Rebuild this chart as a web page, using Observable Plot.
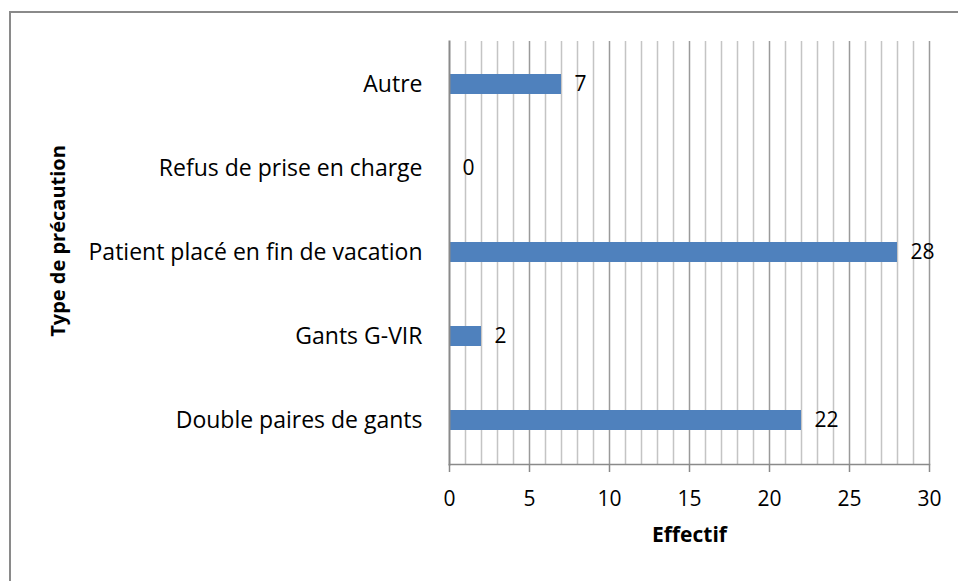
<!DOCTYPE html>
<html>
<head>
<meta charset="utf-8">
<script src="https://cdn.jsdelivr.net/npm/d3@7"></script>
<script src="https://cdn.jsdelivr.net/npm/@observablehq/plot@0.6"></script>
<style>
  html, body { margin: 0; padding: 0; background: #fff; }
  #wrap { position: relative; width: 958px; height: 581px; overflow: hidden; }
  #border { position: absolute; left: 9px; top: 11px; width: 1000px; height: 1000px;
            border-left: 2px solid #8a8a8a; border-top: 2px solid #8a8a8a; box-sizing: border-box; }
  #chart { position: absolute; left: 0; top: 0; }
</style>
</head>
<body>
<div id="wrap"><div id="border"></div><div id="chart"></div></div>
<script>
const categories = ["Double paires de gants", "Gants G-VIR", "Patient placé en fin de vacation", "Refus de prise en charge", "Autre"];
const values = [22, 2, 28, 0, 7];
const xTicks = [0, 5, 10, 15, 20, 25, 30];
const minorTicks = d3.range(0, 31);
const xTitle = "Effectif";
const yTitle = "Type de précaution";

const data = categories.map((c, i) => ({category: c, value: values[i]}));
const yDomain = categories.slice().reverse();
const font = "'Open Sans', 'Liberation Sans', sans-serif";

const chart = Plot.plot({
  width: 958,
  height: 581,
  marginLeft: 449,
  marginRight: 29,
  marginTop: 41,
  marginBottom: 117,
  style: {fontFamily: font, fontSize: "21px", color: "#000", background: "transparent", overflow: "visible"},
  x: {domain: [0, 30]},
  y: {domain: yDomain, paddingInner: 0.76, paddingOuter: 0.38},
  marks: [
    Plot.ruleX(minorTicks.filter(d => d % 5 !== 0), {stroke: "#c4c4c4", strokeWidth: 1.5, strokeOpacity: 1}),
    Plot.ruleX(xTicks.filter(d => d !== 0), {stroke: "#9a9a9a", strokeWidth: 1.5, strokeOpacity: 1}),
    Plot.barX(data, {y: "category", x: "value", fill: "#4f81bd"}),
    Plot.text(data, {y: "category", x: "value", text: d => String(d.value), textAnchor: "start", dx: 13, fontSize: 21, fill: "#000"}),
    Plot.frame({anchor: "bottom", stroke: "#8a8a8a", strokeWidth: 1.5}),
    Plot.frame({anchor: "left", stroke: "#8a8a8a", strokeWidth: 2}),
    Plot.axisX({ticks: xTicks, tickSize: 8, tickPadding: 19, stroke: "#8a8a8a", strokeWidth: 1.5, fontSize: 21, label: null, tickFormat: d => String(d)}),
    Plot.axisY({tickSize: 0, tickPadding: 27, fontSize: 23, label: null}),
    Plot.text([xTitle], {frameAnchor: "bottom", dy: 77, x: 15, text: d => d, fontWeight: "bold", fontSize: 21}),
    Plot.text([yTitle], {frameAnchor: "left", textAnchor: "middle", dx: -391, dy: -12, rotate: -90, text: d => d, fontWeight: "bold", fontSize: 20})
  ]
});
document.getElementById("chart").appendChild(chart);
</script>
</body>
</html>
